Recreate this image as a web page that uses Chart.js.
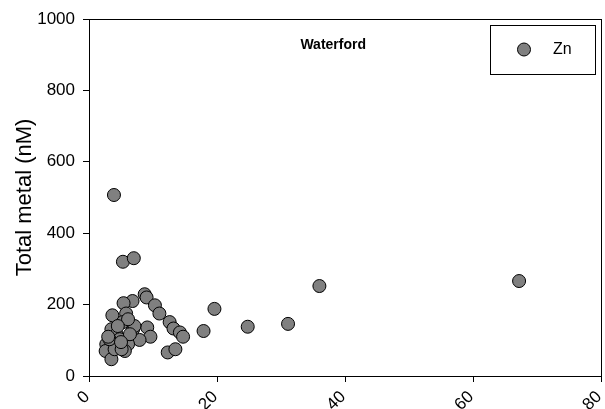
<!DOCTYPE html>
<html>
<head>
<meta charset="utf-8">
<script src="https://cdn.jsdelivr.net/npm/chart.js@4/dist/chart.umd.min.js"></script>
<style>
  html, body { margin: 0; padding: 0; background: #ffffff; }
  #wrap { width: 605px; height: 409px; }
</style>
</head>
<body>
<div id="wrap"><canvas id="chart" width="605" height="409"></canvas></div>
<script>
// Zn samples: x value and total metal concentration (nM)
const znX = [3.9, 5.3, 7.0, 67.2, 36.0, 31.1, 24.8, 19.6, 17.9,
             8.7, 9.0, 6.8, 5.4, 10.3, 11.0, 3.65, 5.8, 12.6, 13.2, 14.2, 14.7, 9.1, 9.6, 7.9, 12.3, 13.5,
             5.3, 3.5, 4.3, 6.9, 6.1, 2.7, 2.6, 3.5, 4.0, 5.6, 4.8, 7.1, 3.2, 6.4, 5.1, 6.1, 4.5, 5.0, 3.0];
const znY = [507, 320, 330, 266, 252, 146, 138, 188, 126,
             229, 220, 210, 204, 198, 175, 170, 175, 151, 133, 122, 110, 136, 110, 101, 66, 75,
             151, 131, 117, 131, 89, 89, 70, 47, 75, 70, 103, 140, 103, 117, 75, 159, 140, 95, 110];
const xTicks = [0, 20, 40, 60, 80];
const yTicks = [0, 200, 400, 600, 800, 1000];
const seriesName = 'Zn';
const panelName = 'Waterford';
const yTitle = 'Total metal (nM)';

const points = znX.map((x, i) => ({ x: x, y: znY[i] }));
const FONT = '"Liberation Sans", Arial, sans-serif';

// Box around the plot area
const framePlugin = {
  id: 'frame',
  afterDatasetsDraw(chart) {
    const { ctx, chartArea: a } = chart;
    ctx.save();
    ctx.strokeStyle = '#000';
    ctx.lineWidth = 1;
    ctx.strokeRect(Math.round(a.left) + 0.5, Math.round(a.top) + 0.5,
                   Math.round(a.right - a.left), Math.round(a.bottom - a.top));
    ctx.restore();
  }
};

// Panel name inside the plot
const panelLabelPlugin = {
  id: 'panelLabel',
  afterDatasetsDraw(chart) {
    const { ctx, chartArea: a } = chart;
    ctx.save();
    ctx.font = 'bold 14px ' + FONT;
    ctx.fillStyle = '#000';
    ctx.textAlign = 'center';
    ctx.textBaseline = 'alphabetic';
    ctx.fillText(panelName, a.left + (a.right - a.left) * 0.477, a.top + 30);
    ctx.restore();
  }
};

// Boxed legend in the top-right corner of the plot
const boxLegendPlugin = {
  id: 'boxLegend',
  afterDatasetsDraw(chart) {
    const { ctx, chartArea: a } = chart;
    const ds = chart.data.datasets[0];
    const bx = a.right - 111, by = a.top + 6, bw = 105, bh = 49;
    ctx.save();
    ctx.fillStyle = '#fff';
    ctx.fillRect(bx, by, bw, bh);
    ctx.strokeStyle = '#000';
    ctx.lineWidth = 1;
    ctx.strokeRect(bx + 0.5, by + 0.5, bw, bh);
    ctx.beginPath();
    ctx.arc(bx + 34, by + 24.5, 6.5, 0, Math.PI * 2);
    ctx.fillStyle = ds.backgroundColor;
    ctx.fill();
    ctx.strokeStyle = ds.borderColor;
    ctx.stroke();
    ctx.font = '16px ' + FONT;
    ctx.fillStyle = '#000';
    ctx.textAlign = 'left';
    ctx.textBaseline = 'middle';
    ctx.fillText(ds.label, bx + 63, by + 25);
    ctx.restore();
  }
};

const tickFont = { family: FONT, size: 17 };

new Chart(document.getElementById('chart'), {
  type: 'scatter',
  data: {
    datasets: [{
      label: seriesName,
      data: points,
      backgroundColor: '#808080',
      borderColor: '#000000',
      borderWidth: 1,
      pointRadius: 6.5,
      pointHoverRadius: 6.5
    }]
  },
  options: {
    responsive: false,
    animation: false,
    events: [],
    layout: { autoPadding: false, padding: { top: 19, right: 4, left: 0, bottom: 0 } },
    plugins: {
      legend: { display: false },
      tooltip: { enabled: false },
      title: { display: false }
    },
    scales: {
      x: {
        type: 'linear',
        min: 0,
        max: 80,
        afterBuildTicks(scale) { scale.ticks = xTicks.map(v => ({ value: v })); },
        afterFit(scale) {
          scale.height = 33;
          scale.paddingLeft = 0;
          scale.paddingRight = 0;
        },
        ticks: {
          font: tickFont,
          color: '#000',
          minRotation: 45,
          maxRotation: 45,
          padding: 5,
          labelOffset: -2,
          callback: v => String(v)
        },
        grid: { display: true, drawOnChartArea: false, tickLength: 6, color: '#000' },
        border: { display: true, color: '#000', width: 1 }
      },
      y: {
        type: 'linear',
        min: 0,
        max: 1000,
        afterBuildTicks(scale) { scale.ticks = yTicks.map(v => ({ value: v })); },
        afterFit(scale) {
          scale.width = 89;
          scale.paddingTop = 0;
          scale.paddingBottom = 0;
        },
        ticks: { font: tickFont, color: '#000', padding: 8, callback: v => String(v) },
        grid: { display: true, drawOnChartArea: false, tickLength: 6, color: '#000' },
        border: { display: true, color: '#000', width: 1 },
        title: {
          display: true,
          text: yTitle,
          color: '#000',
          font: { family: FONT, size: 22 },
          padding: { top: 12, bottom: 0 }
        }
      }
    }
  },
  plugins: [framePlugin, panelLabelPlugin, boxLegendPlugin]
});
</script>
</body>
</html>
